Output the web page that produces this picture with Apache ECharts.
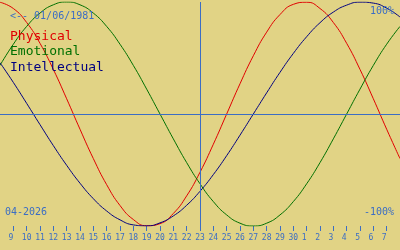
<!DOCTYPE html>
<html>
<head>
<meta charset="utf-8">
<script src="https://cdn.jsdelivr.net/npm/echarts@6/dist/echarts.min.js"></script>
<style>
html,body{margin:0;padding:0;background:#e1d385;}
#c{width:400px;height:250px;}
</style>
</head>
<body>
<div id="c"></div>
<script>
// day index 0..30 = 8 April .. 8 May
const dayLabels = ['9','10','11','12','13','14','15','16','17','18','19','20','21','22','23','24','25','26','27','28','29','30','1','2','3','4','5','6','7'];
const physical = [0.998,0.942,0.817,0.631,0.398,0.136,-0.136,-0.398,-0.631,-0.817,-0.942,-0.998,-0.979,-0.888,-0.731,-0.520,-0.270,0,0.270,0.520,0.731,0.888,0.979,0.998,0.942,0.817,0.631,0.398,0.136,-0.136,-0.398];
const emotional = [0.434,0.623,0.782,0.901,0.975,1,0.975,0.901,0.782,0.623,0.434,0.222,0,-0.222,-0.434,-0.623,-0.782,-0.901,-0.975,-1,-0.975,-0.901,-0.782,-0.623,-0.434,-0.222,0,0.222,0.434,0.623,0.782];
const intellectual = [0.458,0.282,0.095,-0.095,-0.282,-0.458,-0.618,-0.756,-0.866,-0.945,-0.990,-0.999,-0.972,-0.910,-0.815,-0.690,-0.541,-0.372,-0.189,0,0.189,0.372,0.541,0.690,0.815,0.910,0.972,0.999,0.990,0.945,0.866];
const todayIndex = 15;
const tickValues = dayLabels.map((_, i) => i + 1);

const blue = '#3b6dc4';
const mono = 'DejaVu Sans Mono';
const chart = echarts.init(document.getElementById('c'), null, {renderer: 'canvas'});
const pts = arr => arr.map((v, i) => [i, v]);

chart.setOption({
  backgroundColor: '#e1d385',
  animation: false,
  grid: {left: 0, top: 2, width: 400, height: 224},
  xAxis: {type: 'value', min: 0, max: 30, interval: 1,
     axisLine: {show: false, onZero: false}, splitLine: {show: false},
     axisTick: {show: true, length: 5, customValues: tickValues, lineStyle: {color: blue, width: 1}},
     axisLabel: {show: true, customValues: tickValues, align: 'center', margin: 8,
       fontFamily: mono, fontSize: 8, color: blue,
       formatter: v => { const s = dayLabels[Math.round(v) - 1] || ''; return s.length === 1 ? s + '\u00a0' : s; }}},
  yAxis: {type: 'value', min: -1, max: 1, show: false},
  series: [
    {type: 'line', data: [], z: 1, silent: true,
     markLine: {symbol: 'none', silent: true, label: {show: false},
       lineStyle: {color: blue, width: 1, type: 'solid'},
       data: [{yAxis: 0}, {xAxis: todayIndex}]}},
    {name: 'Physical', type: 'line', data: pts(physical), smooth: true, showSymbol: false, z: 3,
     lineStyle: {color: '#e00000', width: 1}},
    {name: 'Emotional', type: 'line', data: pts(emotional), smooth: true, showSymbol: false, z: 3,
     lineStyle: {color: '#007000', width: 1}},
    {name: 'Intellectual', type: 'line', data: pts(intellectual), smooth: true, showSymbol: false, z: 3,
     lineStyle: {color: '#000080', width: 1}}
  ],
  graphic: [
    {type: 'text', left: 10, top: 11, z: 10, style: {text: '<-- 01/06/1981', font: '10px "DejaVu Sans Mono"', fill: blue}},
    {type: 'text', right: 6, top: 6, z: 10, style: {text: '100%', font: '10px "DejaVu Sans Mono"', fill: blue}},
    {type: 'text', right: 6, top: 207, z: 10, style: {text: '-100%', font: '10px "DejaVu Sans Mono"', fill: blue}},
    {type: 'text', left: 5, top: 207, z: 10, style: {text: '04-2026', font: '10px "DejaVu Sans Mono"', fill: blue}},
    {type: 'text', left: 10, top: 30, z: 10, style: {text: 'Physical', font: '13px "DejaVu Sans Mono"', fill: '#e00000'}},
    {type: 'text', left: 10, top: 45.5, z: 10, style: {text: 'Emotional', font: '13px "DejaVu Sans Mono"', fill: '#007000'}},
    {type: 'text', left: 10, top: 61, z: 10, style: {text: 'Intellectual', font: '13px "DejaVu Sans Mono"', fill: '#000080'}}
  ]
});
</script>
</body>
</html>
